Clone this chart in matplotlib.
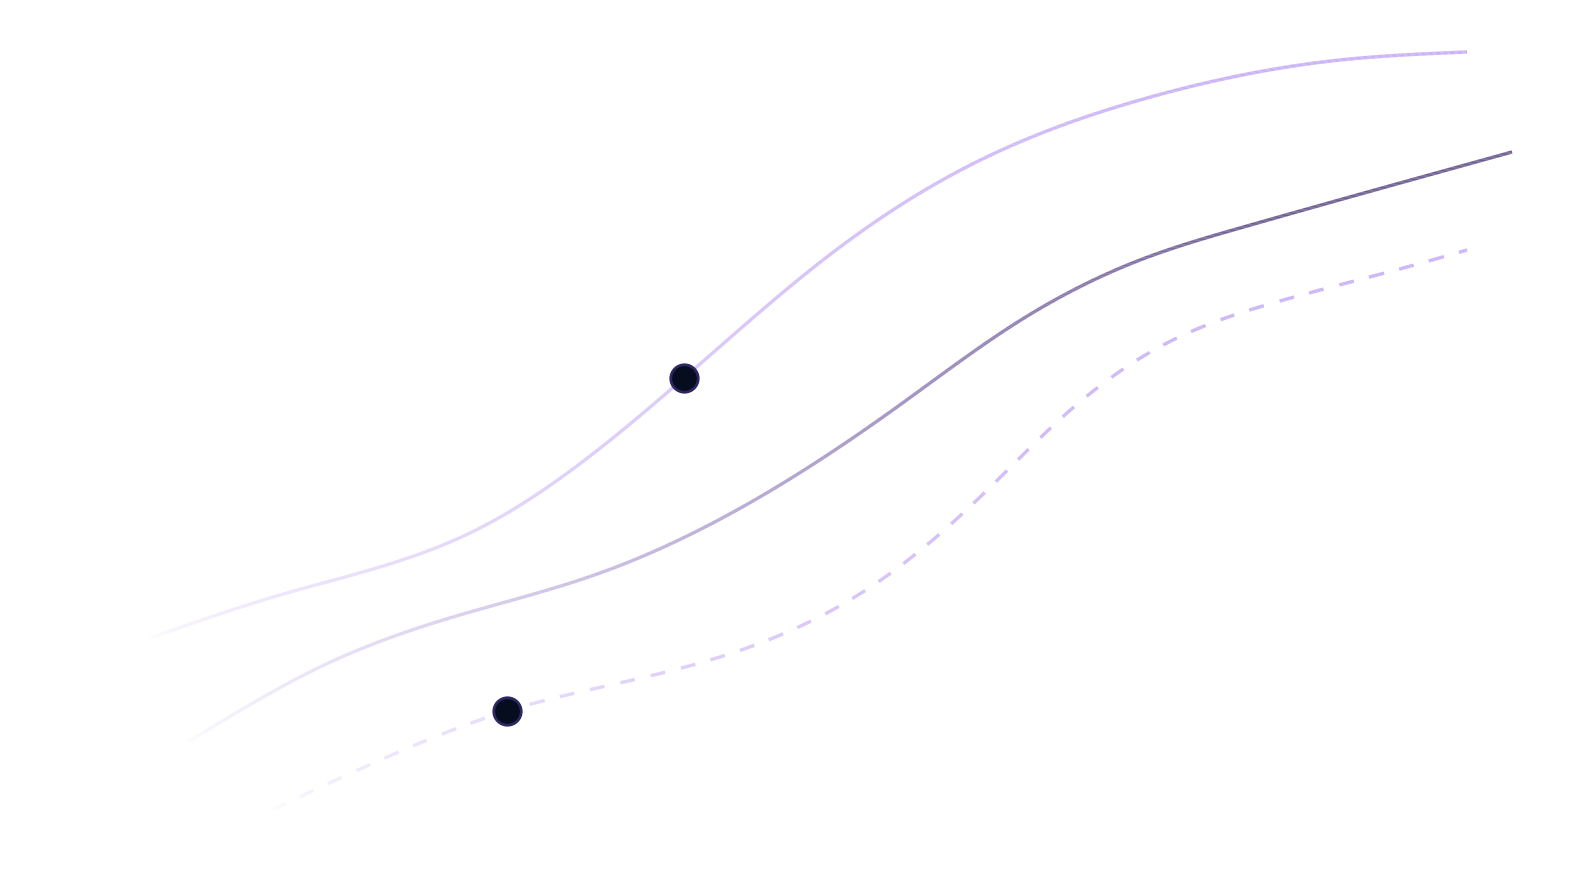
import numpy as np
import matplotlib
matplotlib.use("Agg")
import matplotlib.pyplot as plt
from matplotlib.collections import LineCollection
from matplotlib.colors import to_rgb

# Curve values (x, y in canvas units, y grows downward)
upper_x = [150, 280, 480, 684, 823, 957, 1140, 1340, 1467]
upper_y = [638, 595, 528, 378, 260, 172, 100, 60, 52]

middle_x = [188, 320, 453, 600, 780, 897, 1013, 1140, 1240, 1512]
middle_y = [742, 667, 617, 573, 485, 407, 325, 260, 228, 152]

lower_x = [272, 420, 507, 637, 763, 878, 977, 1067, 1167, 1273, 1407, 1467]
lower_y = [810, 743, 711, 679, 642, 582, 500, 413, 343, 303, 267, 250]

dots_x = [684, 507]
dots_y = [378, 711]

light = "#c3a9f7"
dark = "#5f4f86"
FULL_AT = 1250  # x where the fade reaches full strength


def smooth(xs, ys, n=1500):
    # natural cubic spline through the read points, only for drawing
    x = np.asarray(xs, float)
    y = np.asarray(ys, float)
    h = np.diff(x)
    k = len(x)
    A = np.zeros((k, k))
    r = np.zeros(k)
    A[0, 0] = A[-1, -1] = 1
    for i in range(1, k - 1):
        A[i, i - 1] = h[i - 1]
        A[i, i] = 2 * (h[i - 1] + h[i])
        A[i, i + 1] = h[i]
        r[i] = 6 * ((y[i + 1] - y[i]) / h[i] - (y[i] - y[i - 1]) / h[i - 1])
    m = np.linalg.solve(A, r)
    xx = np.linspace(x[0], x[-1], n)
    j = np.clip(np.searchsorted(x, xx) - 1, 0, k - 2)
    a = (x[j + 1] - xx) / h[j]
    b = (xx - x[j]) / h[j]
    yy = a * y[j] + b * y[j + 1] + ((a ** 3 - a) * m[j] + (b ** 3 - b) * m[j + 1]) * h[j] ** 2 / 6
    return np.column_stack([xx, yy])


def fade_line(ax, xs, ys, color, start_color=None, dash=None):
    pts = smooth(xs, ys)
    segs = np.stack([pts[:-1], pts[1:]], axis=1)
    mid = segs.mean(axis=1)
    t = np.clip((mid[:, 0] - pts[0, 0]) / (FULL_AT - pts[0, 0]), 0, 1)
    alpha = t ** 0.6
    end = np.array(to_rgb(color))
    beg = np.array(to_rgb(start_color)) if start_color else end
    s = t[:, None]
    rgb = beg * (1 - s) + end * s
    if dash is not None:
        d = np.r_[0, np.cumsum(np.hypot(*np.diff(pts, axis=0).T))]
        dm = (d[:-1] + d[1:]) / 2
        on = (dm % (dash[0] + dash[1])) < dash[0]
        segs, alpha, rgb = segs[on], alpha[on], rgb[on]
    cols = np.column_stack([rgb, alpha])
    lc = LineCollection(segs, colors=cols, linewidths=2.4, capstyle="butt", zorder=2)
    ax.add_collection(lc)


fig = plt.figure(figsize=(15.75, 8.71), dpi=100)
ax = fig.add_axes([0, 0, 1, 1])
ax.set_xlim(0, 1575)
ax.set_ylim(871, 0)
ax.axis("off")

fade_line(ax, upper_x, upper_y, light)
fade_line(ax, middle_x, middle_y, dark, start_color=light)
fade_line(ax, lower_x, lower_y, light, dash=(15, 16))

ax.scatter(dots_x, dots_y, s=390, color="#050d1f", edgecolors="#2e2660", linewidths=2, zorder=5)

fig.savefig("out.png", dpi=100, facecolor="white")
